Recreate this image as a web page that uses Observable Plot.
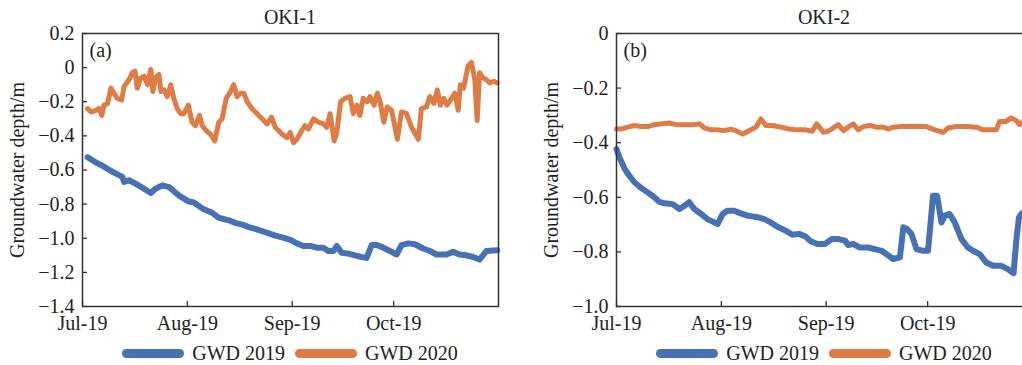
<!DOCTYPE html>
<html>
<head>
<meta charset="utf-8">
<script src="https://cdn.jsdelivr.net/npm/d3@7"></script>
<script src="https://cdn.jsdelivr.net/npm/@observablehq/plot@0.6"></script>
<style>
  html, body { margin: 0; padding: 0; background: #fff; }
  body { width: 1022px; height: 365px; overflow: hidden; font-family: "Liberation Serif", "Times New Roman", serif; color: #222; }
  #wrap { position: relative; width: 1022px; height: 365px; overflow: hidden; }
  .panel { position: absolute; top: 0; width: 534px; }
  .title { margin-left: 82px; width: 416px; height: 30px; line-height: 34px; text-align: center; font-size: 20px; }
  .legend { margin-left: 82px; width: 416px; height: 30px; display: flex; justify-content: center; align-items: center; font-size: 20px; }
  .item { display: flex; align-items: center; margin: 0 5px; white-space: nowrap; }
  .sw { width: 62px; height: 9px; border-radius: 5px; margin-right: 8px; }
  svg { display: block; }
</style>
</head>
<body>
<div id="wrap"></div>
<script>
// ---------- data (day offset from 2019-07-01, groundwater depth in m) ----------
const seriesNames = ["GWD 2019", "GWD 2020"];
const seriesColors = ["#4671b5", "#df7b45"];
const monthTicks = ["2019-07-01", "2019-08-01", "2019-09-01", "2019-10-01"];
const yTicksOki1 = [0.2, 0, -0.2, -0.4, -0.6, -0.8, -1.0, -1.2, -1.4];
const yTicksOki2 = [0, -0.2, -0.4, -0.6, -0.8, -1.0];

const oki1Gwd2019 = [[1.5,-0.525],[3.9,-0.555],[5.9,-0.575],[7.9,-0.60],[9.8,-0.62],[11.8,-0.64],[12.3,-0.67],[13.8,-0.66],[15.7,-0.68],[18.2,-0.71],[20.2,-0.735],[21.6,-0.71],[23.6,-0.69],[25.6,-0.70],[28.5,-0.75],[31.5,-0.785],[32.9,-0.79],[35.4,-0.825],[38.3,-0.85],[40.3,-0.88],[43.3,-0.895],[45.2,-0.91],[47.2,-0.92],[49.2,-0.935],[51.1,-0.945],[54.1,-0.965],[57.0,-0.985],[59.0,-0.995],[61.5,-1.01],[63.4,-1.03],[65.3,-1.045],[67.3,-1.045],[69.3,-1.055],[71.2,-1.055],[72.7,-1.075],[74.2,-1.075],[75.2,-1.045],[76.6,-1.085],[78.6,-1.09],[80.6,-1.10],[82.5,-1.11],[84.0,-1.115],[85.5,-1.04],[87.0,-1.04],[88.9,-1.055],[90.9,-1.075],[92.9,-1.095],[94.3,-1.04],[96.3,-1.03],[98.3,-1.035],[100.7,-1.06],[102.7,-1.075],[104.7,-1.095],[107.6,-1.095],[109.6,-1.08],[111.5,-1.095],[113.5,-1.10],[115.5,-1.11],[117.4,-1.125],[119.4,-1.075],[122.6,-1.07]];

const oki1Gwd2020 = [[1.5,-0.24],[2.5,-0.26],[3.9,-0.25],[4.9,-0.24],[5.7,-0.28],[6.4,-0.22],[7.4,-0.21],[8.4,-0.12],[9.3,-0.15],[10.3,-0.18],[11.6,-0.19],[12.3,-0.11],[13.8,-0.07],[14.7,-0.03],[15.5,-0.02],[16.2,-0.12],[17.2,-0.06],[18.2,-0.05],[19.2,-0.10],[20.2,-0.01],[20.8,-0.14],[21.6,-0.06],[22.6,-0.04],[23.2,-0.14],[24.1,-0.13],[25.1,-0.17],[26.1,-0.10],[27.0,-0.18],[28.0,-0.24],[29.0,-0.27],[30.0,-0.27],[31.3,-0.22],[32.4,-0.32],[33.4,-0.34],[34.6,-0.28],[35.4,-0.34],[36.6,-0.37],[37.9,-0.39],[39.1,-0.43],[40.3,-0.32],[41.3,-0.30],[42.5,-0.18],[43.8,-0.14],[44.7,-0.10],[45.7,-0.17],[46.7,-0.15],[47.7,-0.15],[48.7,-0.20],[50.1,-0.24],[51.1,-0.26],[53.1,-0.30],[54.6,-0.33],[55.9,-0.29],[57.0,-0.35],[59.0,-0.39],[60.5,-0.41],[61.4,-0.38],[62.4,-0.44],[63.4,-0.42],[64.8,-0.37],[65.8,-0.34],[66.8,-0.36],[68.3,-0.30],[69.8,-0.32],[71.2,-0.33],[72.2,-0.35],[73.2,-0.27],[74.4,-0.43],[75.2,-0.38],[76.3,-0.20],[77.6,-0.18],[79.1,-0.17],[80.1,-0.27],[81.1,-0.22],[82.0,-0.28],[83.0,-0.18],[84.2,-0.20],[85.0,-0.17],[86.2,-0.22],[87.2,-0.15],[88.1,-0.21],[89.1,-0.32],[90.1,-0.23],[91.4,-0.25],[93.1,-0.42],[94.3,-0.26],[95.8,-0.27],[97.3,-0.35],[99.3,-0.42],[100.2,-0.24],[101.7,-0.23],[102.7,-0.17],[103.9,-0.21],[104.9,-0.13],[105.8,-0.22],[106.8,-0.18],[107.8,-0.22],[109.1,-0.18],[110.1,-0.15],[111.1,-0.25],[111.7,-0.10],[112.7,-0.12],[114.0,0.01],[115.0,0.03],[116.0,-0.07],[116.7,-0.31],[117.4,-0.03],[118.4,-0.06],[119.4,-0.07],[120.4,-0.09],[121.6,-0.08],[122.6,-0.09]];

const oki2Gwd2019 = [[0,-0.423],[0.9,-0.454],[2.4,-0.496],[3.8,-0.521],[5.3,-0.545],[7.3,-0.566],[9.2,-0.582],[11.2,-0.60],[12.7,-0.617],[14.2,-0.622],[16.6,-0.625],[18.6,-0.643],[20.1,-0.631],[21.5,-0.618],[23.0,-0.643],[25.0,-0.661],[26.9,-0.68],[28.9,-0.692],[29.9,-0.698],[31.4,-0.661],[32.8,-0.649],[34.8,-0.649],[36.8,-0.659],[38.7,-0.667],[41.7,-0.673],[43.7,-0.68],[45.6,-0.692],[47.6,-0.708],[50.0,-0.722],[52.0,-0.737],[54.0,-0.734],[55.9,-0.744],[57.4,-0.761],[59.4,-0.771],[61.7,-0.771],[63.6,-0.753],[65.6,-0.753],[67.6,-0.759],[68.5,-0.775],[70.0,-0.771],[72.0,-0.784],[74.4,-0.784],[76.4,-0.79],[78.4,-0.796],[79.8,-0.808],[81.8,-0.826],[83.8,-0.82],[84.8,-0.71],[85.9,-0.716],[87.2,-0.734],[88.7,-0.79],[90.7,-0.796],[92.1,-0.796],[93.6,-0.594],[94.8,-0.594],[96.1,-0.692],[97.1,-0.667],[98.5,-0.661],[100.0,-0.692],[102.0,-0.753],[103.9,-0.784],[105.4,-0.796],[107.4,-0.808],[109.3,-0.839],[111.3,-0.851],[113.8,-0.851],[115.7,-0.863],[117.4,-0.878],[118.2,-0.759],[119.0,-0.674],[119.7,-0.661],[121.0,-0.65]];

const oki2Gwd2020 = [[0,-0.35],[1.4,-0.35],[3.3,-0.343],[5.3,-0.337],[7.3,-0.341],[9.2,-0.341],[11.2,-0.334],[13.2,-0.331],[15.6,-0.328],[17.6,-0.334],[20.1,-0.334],[22.5,-0.334],[24.5,-0.331],[26.0,-0.346],[27.9,-0.353],[29.9,-0.353],[31.9,-0.356],[33.8,-0.35],[35.3,-0.356],[37.3,-0.368],[39.2,-0.356],[41.2,-0.343],[42.7,-0.313],[44.1,-0.337],[46.1,-0.337],[48.6,-0.343],[51.0,-0.35],[53.5,-0.353],[55.9,-0.353],[57.9,-0.358],[59.2,-0.331],[61.2,-0.362],[62.6,-0.358],[64.1,-0.346],[65.6,-0.334],[67.1,-0.356],[68.5,-0.343],[70.0,-0.331],[71.5,-0.353],[73.0,-0.341],[74.9,-0.337],[76.9,-0.343],[78.9,-0.343],[80.3,-0.35],[81.8,-0.343],[84.3,-0.341],[86.7,-0.34],[89.7,-0.341],[91.6,-0.341],[94.1,-0.353],[96.6,-0.362],[98.0,-0.346],[100.5,-0.341],[103.4,-0.341],[106.4,-0.343],[108.4,-0.353],[110.3,-0.353],[112.3,-0.353],[113.3,-0.322],[115.2,-0.322],[116.7,-0.309],[118.2,-0.319],[119.2,-0.334],[120.5,-0.32]];

// ---------- helpers ----------
const start = Date.UTC(2019, 6, 1);
const toDate = d => new Date(start + d * 864e5);
const xDomain = [new Date("2019-07-01"), new Date("2019-11-01")];
const monthDates = monthTicks.map(s => new Date(s));
const fmtY = d => Math.abs(d) < 1e-9 ? "0" : d3.format(".1f")(d);
const fmtX = d3.utcFormat("%b-%y");

const W = 534, H = 308, ML = 82, MR = 36, MT = 3, MB = 32;
const PW = W - ML - MR, PH = H - MT - MB;
const frameColor = "#333";

function panel(title, tag, yDomain, yTicks, s2019, s2020, left) {
  const div = document.createElement("div");
  div.className = "panel";
  div.style.left = left + "px";
  const t = document.createElement("div");
  t.className = "title";
  t.textContent = title;
  div.appendChild(t);

  const chart = Plot.plot({
    width: W, height: H,
    marginLeft: ML, marginRight: MR, marginTop: MT, marginBottom: MB,
    style: { fontFamily: '"Liberation Serif", "Times New Roman", serif', fontSize: "20px", color: "#222", background: "transparent", overflow: "visible" },
    x: { type: "utc", domain: xDomain },
    y: { domain: yDomain },
    marks: [
      Plot.line(s2019, { x: d => toDate(d[0]), y: d => d[1], stroke: seriesColors[0], strokeWidth: 6, strokeLinejoin: "round", strokeLinecap: "round" }),
      Plot.line(s2020, { x: d => toDate(d[0]), y: d => d[1], stroke: seriesColors[1], strokeWidth: 5, strokeLinejoin: "round", strokeLinecap: "round" }),
      Plot.tickY(yTicks, { y: d => d, insetRight: PW - 5, stroke: frameColor, strokeWidth: 1.3 }),
      Plot.tickX(monthDates, { x: d => d, insetTop: PH - 5, stroke: frameColor, strokeWidth: 1.3 }),
      Plot.frame({ stroke: frameColor, strokeWidth: 1.5 }),
      Plot.axisY(yTicks, { tickSize: 0, tickPadding: 8, tickFormat: fmtY, label: "Groundwater depth/m", labelAnchor: "center", labelOffset: 73, labelArrow: "none" }),
      Plot.axisX(monthDates, { tickSize: 0, tickPadding: 9, tickFormat: fmtX, label: null }),
      Plot.text([tag], { text: d => d, frameAnchor: "top-left", dx: 7, dy: 9, textAnchor: "start", lineAnchor: "top", fontSize: 20, fill: "#222" })
    ]
  });
  div.appendChild(chart);

  const lg = document.createElement("div");
  lg.className = "legend";
  seriesNames.forEach((n, i) => {
    const it = document.createElement("div");
    it.className = "item";
    const sw = document.createElement("div");
    sw.className = "sw";
    sw.style.background = seriesColors[i];
    const tx = document.createElement("span");
    tx.textContent = n;
    it.appendChild(sw); it.appendChild(tx);
    lg.appendChild(it);
  });
  div.appendChild(lg);
  document.getElementById("wrap").appendChild(div);
}

panel("OKI-1", "(a)", [-1.4, 0.2], yTicksOki1, oki1Gwd2019, oki1Gwd2020, 0);
panel("OKI-2", "(b)", [-1.0, 0], yTicksOki2, oki2Gwd2019, oki2Gwd2020, 534);
</script>
</body>
</html>
